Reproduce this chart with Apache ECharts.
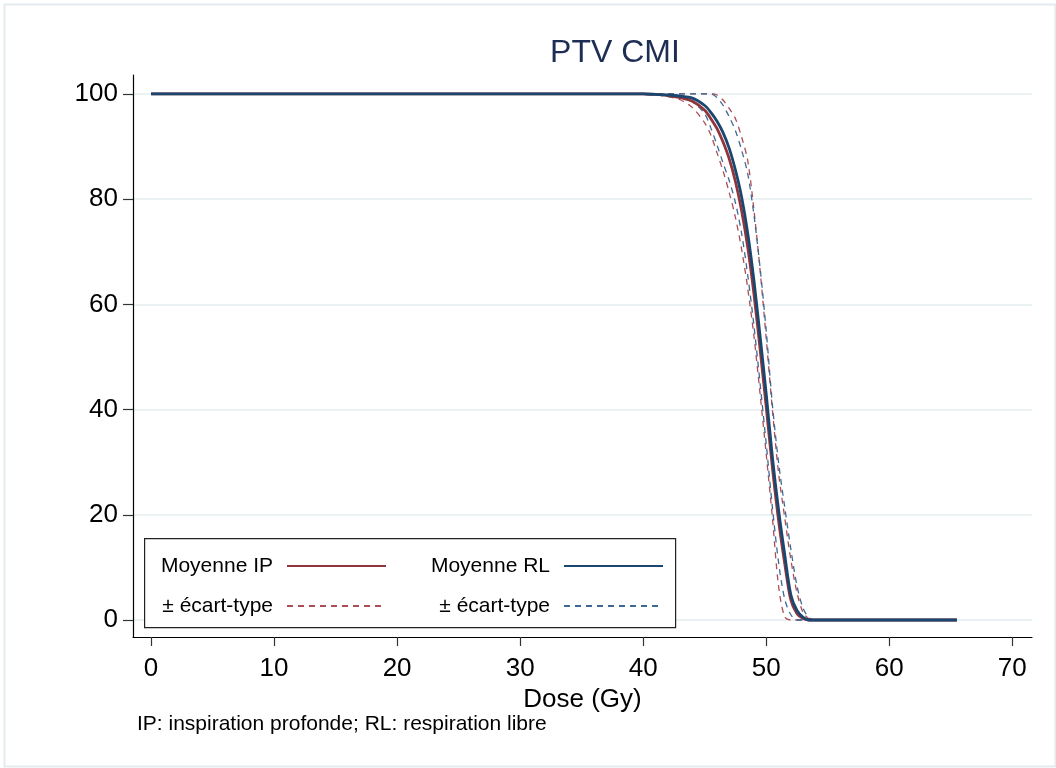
<!DOCTYPE html>
<html>
<head>
<meta charset="utf-8">
<title>PTV CMI</title>
<script src="https://cdn.jsdelivr.net/npm/echarts@6/dist/echarts.min.js"></script>
<style>
  html, body { margin: 0; padding: 0; background: #ffffff; }
  #chart { width: 1056px; height: 768px; }
</style>
</head>
<body>
<div id="chart"></div>
<script>
// Dose-volume histogram, PTV CMI: volume (%) against dose (Gy)
const dose      = [0, 38, 40, 41, 42, 43, 44, 45, 45.5, 46, 46.5, 47, 47.5, 48, 48.5, 49, 49.5, 50, 50.5, 51, 51.5, 52, 52.5, 53, 53.5, 54, 65.5];

// Inspiration profonde (IP)
const meanIP    = [100, 100, 100, 99.9, 99.7, 99.3, 98.6, 96.9, 95.3, 93.4, 90.8, 87.6, 83.3, 77.8, 70.8, 62, 51.5, 40.5, 29, 19, 10.8, 3.8, 1.2, 0.3, 0, 0, 0];
const upperIP   = [100, 100, 100, 100, 100, 100, 100, 100, 100, 99.8, 98.8, 97.2, 95.3, 91.8, 87.3, 78, 66.5, 53.5, 40, 28, 19.5, 11.5, 5.2, 1.4, 0.2, 0, 0];
const lowerIP   = [100, 100, 99.9, 99.8, 99.5, 98.9, 97.4, 94.5, 92.2, 88.8, 85.3, 81.2, 76.5, 70.5, 63, 54, 43, 31.5, 19.5, 6.5, 0.6, 0, 0, 0, 0, 0, 0];

// Respiration libre (RL)
const meanRL    = [100, 100, 100, 99.9, 99.8, 99.6, 99.2, 97.8, 96.5, 94.8, 92.6, 89.6, 85.5, 80.4, 73.5, 64.6, 54, 43, 31, 21, 12.5, 4.8, 1.8, 0.5, 0, 0, 0];
const upperRL   = [100, 100, 100, 100, 100, 100, 100, 100, 100, 99.3, 97.8, 95.6, 93, 89.3, 84.8, 77, 67, 55, 41, 30, 21.5, 13.5, 6.5, 2.2, 0.4, 0, 0];
const lowerRL   = [100, 100, 100, 99.9, 99.7, 99.3, 98.5, 96.2, 93.5, 90.3, 86.8, 83.5, 79.3, 73.5, 65.5, 56, 45, 33.5, 21.5, 11, 4, 1, 0, 0, 0, 0, 0];

const xTicks = [0, 10, 20, 30, 40, 50, 60, 70];
const yTicks = [0, 20, 40, 60, 80, 100];

const FONT = 'Liberation Sans, Arial, Helvetica, sans-serif';
const RED = '#90353b', BLUE = '#1a476f';
const RED_SD = '#ad4d56', BLUE_SD = '#3d6a94';

const pairs = ys => dose.map((d, i) => [d, ys[i]]);

function curve(name, ys, color, width, dashed, z) {
  return {
    name, type: 'line', data: pairs(ys),
    symbol: 'none', smooth: 0.3,
    z, silent: true,
    lineStyle: { color, width, type: dashed ? [6, 5] : 'solid', cap: 'butt' },
    itemStyle: { color }
  };
}

function legendAt(name, right, top, label) {
  return {
    data: [name], right, top, align: 'right', orient: 'horizontal',
    itemWidth: 99, itemHeight: 14, padding: 0, z: 10,
    selectedMode: false,
    // line-only key: the marker drawn on top of the key line is hidden
    itemStyle: { opacity: 0, borderWidth: 0 },
    formatter: () => label,
    textStyle: { fontFamily: FONT, fontSize: 21, color: '#000', lineHeight: 24, padding: [0, 9, 0, 0] }
  };
}

const chart = echarts.init(document.getElementById('chart'), null, { renderer: 'canvas' });

chart.setOption({
  backgroundColor: '#ffffff',
  animation: false,
  title: [
    { text: 'PTV CMI', left: 610, top: 32, textAlign: 'center',
      textStyle: { fontFamily: FONT, fontSize: 32, fontWeight: 'normal', color: '#1e2d53' } },
    { text: 'IP: inspiration profonde; RL: respiration libre', left: 137, top: 714, padding: 0,
      textStyle: { fontFamily: FONT, fontSize: 21, fontWeight: 'normal', color: '#000' } }
  ],
  grid: { left: 133, right: 24, top: 75, bottom: 131, containLabel: false },
  xAxis: {
    type: 'value', min: -1.463, max: 71.6,
    name: 'Dose (Gy)', nameLocation: 'middle', nameGap: 40,
    nameTextStyle: { fontFamily: FONT, fontSize: 26, color: '#000' },
    axisLine: { show: true, onZero: false, lineStyle: { color: '#000', width: 1.2 } },
    axisTick: { show: true, length: 9, customValues: xTicks, lineStyle: { color: '#333', width: 1.2 } },
    axisLabel: { customValues: xTicks, fontFamily: FONT, fontSize: 26, color: '#000', margin: 19 },
    splitLine: { show: false }
  },
  yAxis: {
    type: 'value', min: -3.23, max: 103.6,
    axisLine: { show: true, onZero: false, lineStyle: { color: '#000', width: 1.2 } },
    axisTick: { show: true, length: 10, customValues: yTicks, lineStyle: { color: '#333', width: 1.2 } },
    axisLabel: { customValues: yTicks, fontFamily: FONT, fontSize: 26, color: '#000', margin: 15 },
    splitLine: { show: true, lineStyle: { color: '#eaf2f3', width: 2 } }
  },
  legend: [
    legendAt('Moyenne IP', 669, 554, 'Moyenne IP'),
    legendAt('Écart-type IP', 669, 594, '± écart-type'),
    legendAt('Moyenne RL', 392, 554, 'Moyenne RL'),
    legendAt('Écart-type RL', 392, 594, '± écart-type')
  ],
  graphic: [
    { type: 'rect', left: 2, top: 2, z: -1, silent: true,
      shape: { width: 1051, height: 762 },
      style: { fill: 'none', stroke: '#e3ebee', lineWidth: 2 } },
    { type: 'rect', left: 144, top: 538, z: 5, silent: true,
      shape: { width: 531, height: 89 },
      style: { fill: '#ffffff', stroke: '#222', lineWidth: 1.2 } }
  ],
  series: [
    curve('Écart-type IP', upperIP, RED_SD, 1.3, true, 2),
    curve('Écart-type IP', lowerIP, RED_SD, 1.3, true, 2),
    curve('Écart-type RL', upperRL, BLUE_SD, 1.3, true, 3),
    curve('Écart-type RL', lowerRL, BLUE_SD, 1.3, true, 3),
    curve('Moyenne IP', meanIP, RED, 2.8, false, 4),
    curve('Moyenne RL', meanRL, BLUE, 2.8, false, 5)
  ]
});
</script>
</body>
</html>
